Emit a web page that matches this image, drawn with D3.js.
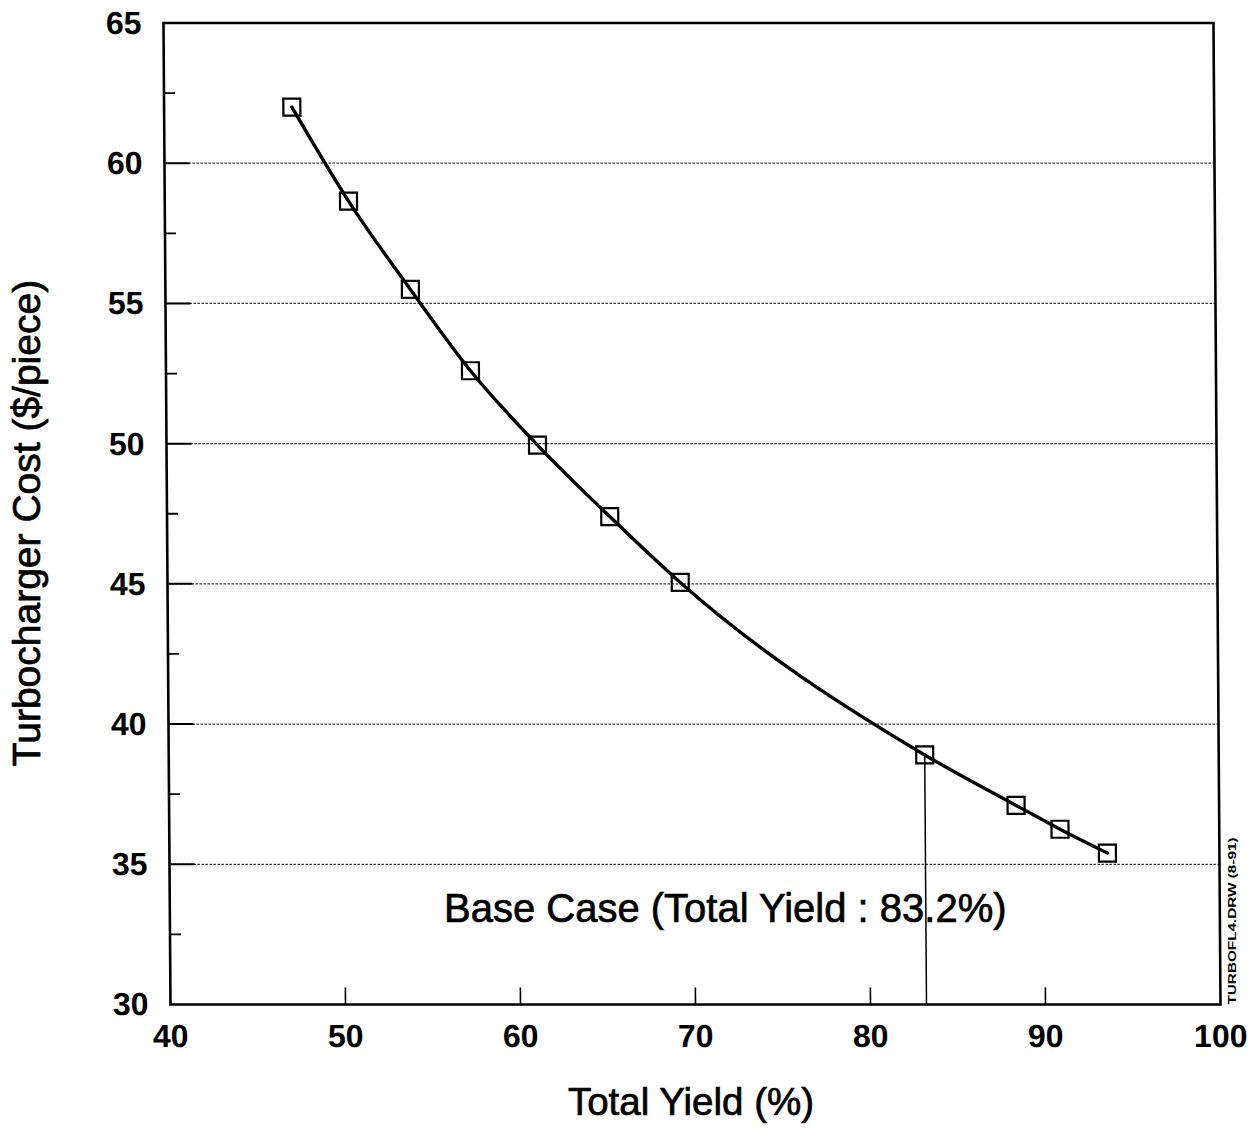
<!DOCTYPE html>
<html>
<head>
<meta charset="utf-8">
<script src="https://cdn.jsdelivr.net/npm/d3@7"></script>
<style>
  html, body { margin: 0; padding: 0; background: #fff; }
  svg { display: block; }
  text { font-family: "Liberation Sans", Arial, Helvetica, sans-serif; fill: #000; }
  .heavy { stroke: #000; stroke-width: 0.7px; }
</style>
</head>
<body>
<svg id="chart" width="1259" height="1133"></svg>
<script>
// Turbocharger cost versus total yield
const yieldPct     = [47.3, 50.5, 54.0, 57.4, 61.2, 65.3, 69.3, 83.2, 88.4, 90.9, 93.6];
const costPerPiece = [62.0, 58.65, 55.5, 52.6, 49.95, 47.4, 45.05, 38.9, 37.1, 36.25, 35.4];

const xTickValues  = [40, 50, 60, 70, 80, 90, 100];
const xInnerTicks  = [50, 60, 70, 80, 90];
const yTickValues  = [30, 35, 40, 45, 50, 55, 60, 65];
const yGridValues  = [35, 40, 45, 50, 55, 60];
const yMinorTicks  = [32.5, 37.5, 42.5, 47.5, 52.5, 57.5, 62.5];

const baseCaseYield = 83.2;
const baseCaseLabel = "Base Case (Total Yield : 83.2%)";
const xTitle = "Total Yield (%)";
const yTitle = "Turbocharger Cost ($/piece)";
const fileTag = "TURBOFL4.DRW (8-91)";

const svg = d3.select("#chart");

const plot = { left: 170.5, right: 1220.5, top: 23, bottom: 1004.5 };

const x = d3.scaleLinear().domain([40, 100]).range([plot.left, plot.right]);
const y = d3.scaleLinear().domain([30, 65]).range([plot.bottom, plot.top]);

// the plotting frame leans slightly to the left toward its top edge
const lean = 0.41;
const g = svg.append("g")
  .attr("transform", `translate(0,${plot.bottom}) skewX(${lean}) translate(0,${-plot.bottom})`);

// dotted horizontal gridlines
g.append("g").selectAll("line").data(yGridValues).join("line")
  .attr("x1", plot.left).attr("x2", plot.right)
  .attr("y1", d => y(d)).attr("y2", d => y(d))
  .attr("stroke", "#3a3a3a").attr("stroke-width", 1.3)
  .attr("stroke-dasharray", "2.5,1.5");

// solid major ticks on the left axis
g.append("g").selectAll("line").data(yGridValues).join("line")
  .attr("x1", plot.left).attr("x2", plot.left + 25)
  .attr("y1", d => y(d)).attr("y2", d => y(d))
  .attr("stroke", "#000").attr("stroke-width", 2);

// minor ticks on the left axis
g.append("g").selectAll("line").data(yMinorTicks).join("line")
  .attr("x1", plot.left).attr("x2", plot.left + 11)
  .attr("y1", d => y(d)).attr("y2", d => y(d))
  .attr("stroke", "#000").attr("stroke-width", 1.8);

// inner ticks on the bottom axis
g.append("g").selectAll("line").data(xInnerTicks).join("line")
  .attr("x1", d => x(d)).attr("x2", d => x(d))
  .attr("y1", plot.bottom).attr("y2", plot.bottom - 17)
  .attr("stroke", "#000").attr("stroke-width", 1.6);

// frame
g.append("rect")
  .attr("x", plot.left).attr("y", plot.top)
  .attr("width", plot.right - plot.left).attr("height", plot.bottom - plot.top)
  .attr("fill", "none").attr("stroke", "#000").attr("stroke-width", 2.6);

// tick labels
g.append("g").selectAll("text").data(yTickValues).join("text")
  .attr("x", plot.left - 22).attr("y", d => y(d))
  .attr("text-anchor", "end").attr("dominant-baseline", "central")
  .attr("font-size", 32).attr("font-weight", 700)
  .text(d => d);

g.append("g").selectAll("text").data(xTickValues).join("text")
  .attr("x", d => x(d)).attr("y", plot.bottom + 43)
  .attr("text-anchor", "middle")
  .attr("font-size", 32).attr("font-weight", 700)
  .text(d => d);

// base case marker line
const baseIdx = yieldPct.indexOf(baseCaseYield);
g.append("line")
  .attr("x1", x(baseCaseYield)).attr("x2", x(baseCaseYield))
  .attr("y1", y(costPerPiece[baseIdx])).attr("y2", plot.bottom)
  .attr("stroke", "#000").attr("stroke-width", 1.5);

// cost curve
const pts = yieldPct.map((v, i) => [v, costPerPiece[i]]);
g.append("path")
  .datum(pts)
  .attr("d", d3.line().x(d => x(d[0])).y(d => y(d[1])).curve(d3.curveMonotoneX))
  .attr("fill", "none").attr("stroke", "#000").attr("stroke-width", 3.4)
  .attr("stroke-linejoin", "round").attr("stroke-linecap", "round");

// square markers
const side = 17;
g.append("g").selectAll("rect").data(pts).join("rect")
  .attr("x", d => x(d[0]) - side / 2).attr("y", d => y(d[1]) - side / 2)
  .attr("width", side).attr("height", side)
  .attr("fill", "none").attr("stroke", "#000").attr("stroke-width", 2.2);

// titles and notes
svg.append("text")
  .attr("class", "heavy")
  .attr("x", 444).attr("y", 922)
  .attr("font-size", 40)
  .text(baseCaseLabel);

svg.append("text")
  .attr("class", "heavy")
  .attr("x", 691).attr("y", 1115)
  .attr("text-anchor", "middle")
  .attr("font-size", 38.5)
  .text(xTitle);

svg.append("text")
  .attr("class", "heavy")
  .attr("transform", "translate(40,523) rotate(-90)")
  .attr("text-anchor", "middle")
  .attr("font-size", 39)
  .text(yTitle);

svg.append("text")
  .attr("transform", "translate(1236,921) rotate(-90)")
  .attr("text-anchor", "middle")
  .attr("font-size", 11).attr("font-weight", 700)
  .attr("textLength", 167).attr("lengthAdjust", "spacingAndGlyphs")
  .text(fileTag);
</script>
</body>
</html>
